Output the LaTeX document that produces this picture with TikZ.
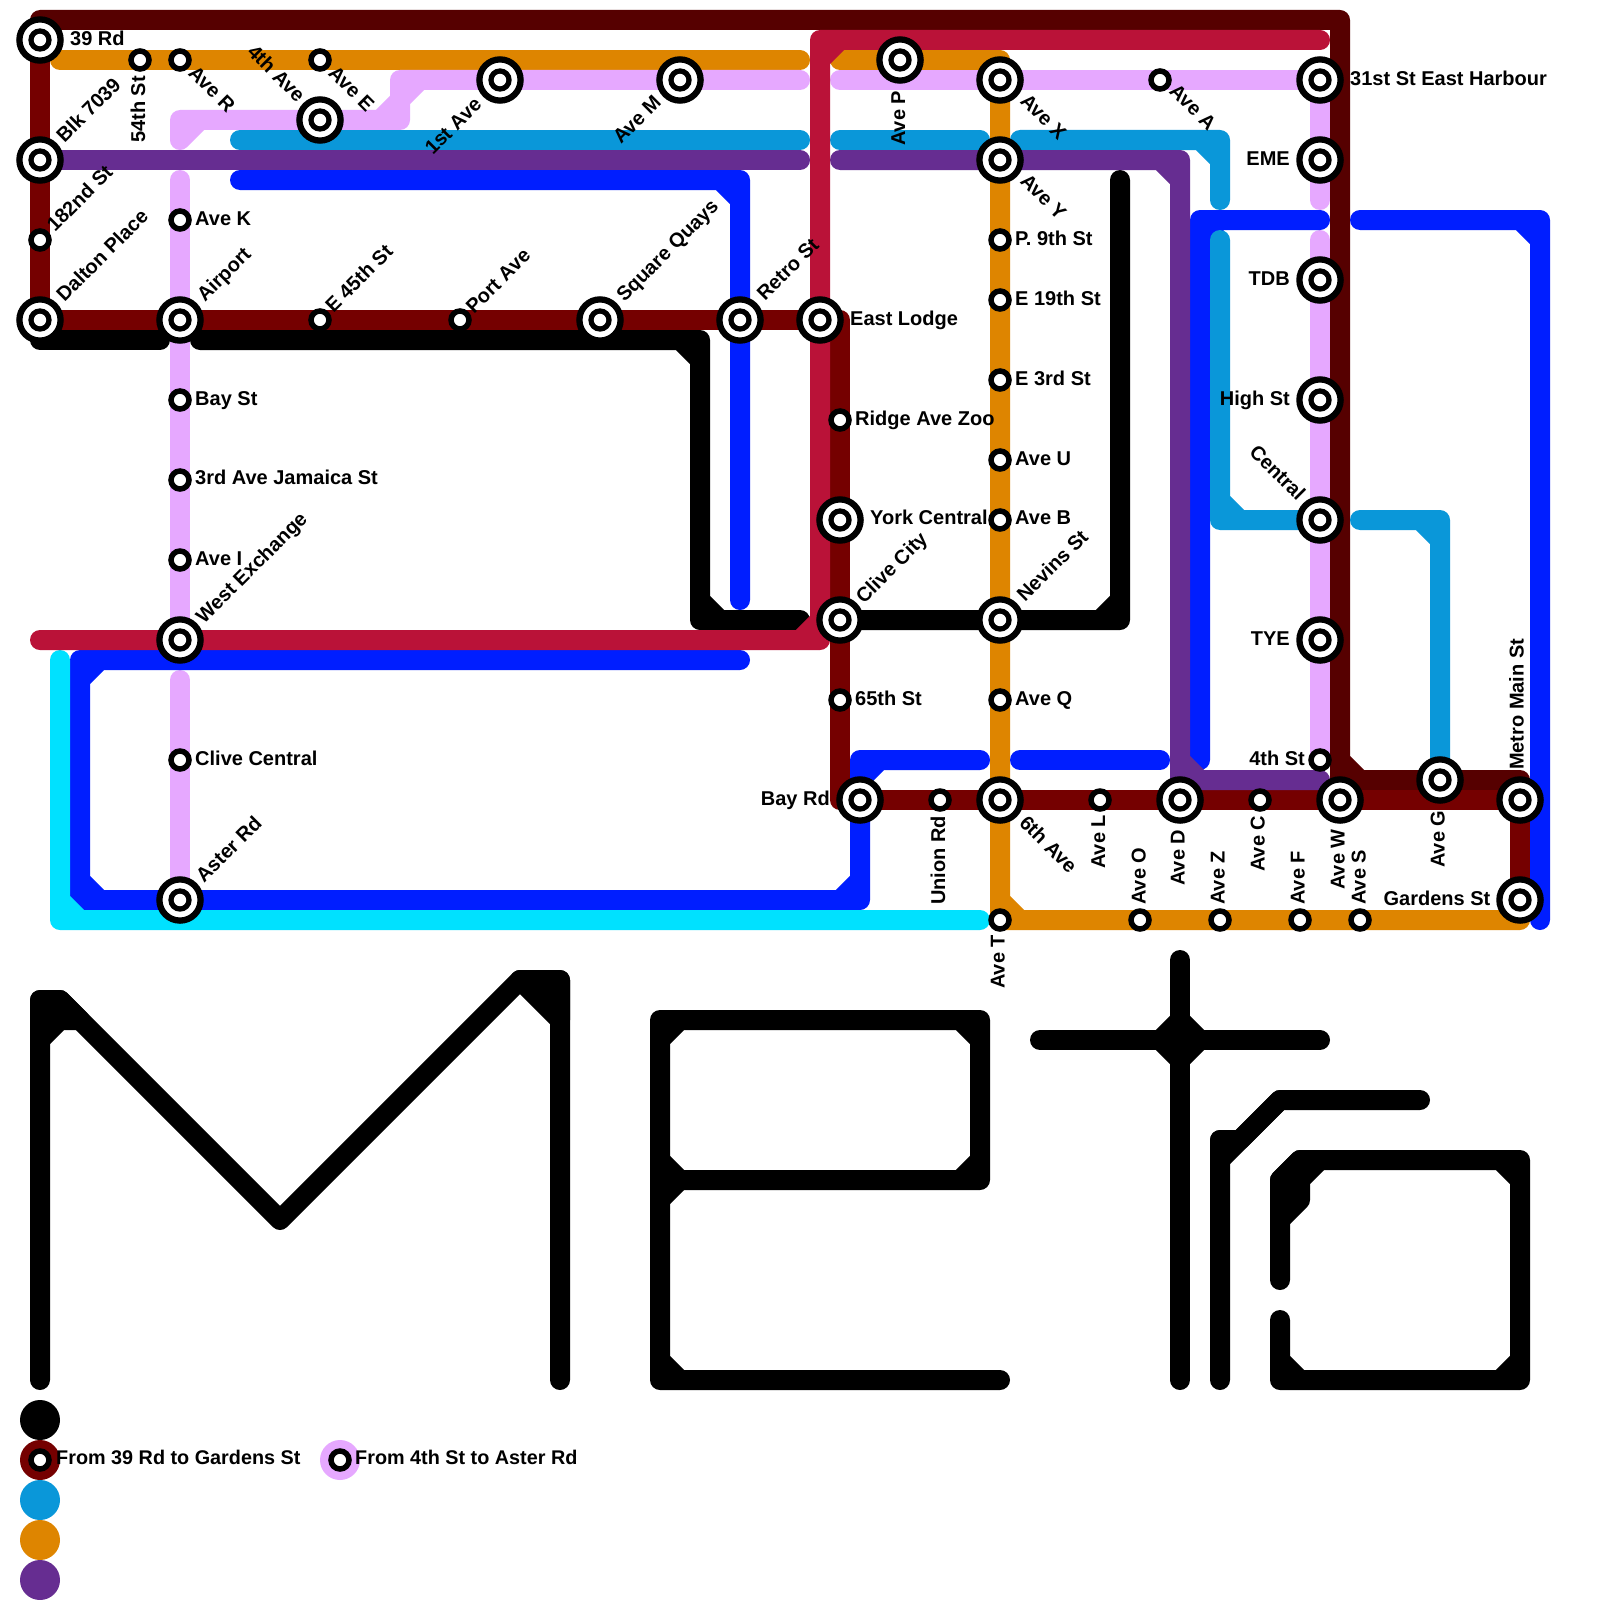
\documentclass[tikz,border=0pt]{standalone}
\usepackage{fontspec}
\setmainfont{Liberation Sans}
\usetikzlibrary{backgrounds}
\definecolor{cMaroon}{HTML}{560000}
\definecolor{cRed}{HTML}{750000}
\definecolor{cCrimson}{HTML}{BA1238}
\definecolor{cOrange}{HTML}{DE8500}
\definecolor{cPink}{HTML}{E6A8FF}
\definecolor{cSky}{HTML}{0A97D9}
\definecolor{cPurple}{HTML}{662D91}
\definecolor{cBlue}{HTML}{001EFF}
\definecolor{cCyan}{HTML}{00E1FF}
\pgfdeclarelayer{lines}
\pgfsetlayers{lines,main}
\newcommand\cnr[3]{-- #1 -- #2 -- #3 -- #1 -- #3}
\tikzset{
  trk/.style={line width=20pt,line cap=round,line join=round},
  big/.style={circle,draw=black,fill=white,line width=6.3pt,minimum size=41.2pt,inner sep=0pt,outer sep=0pt,
    path picture={\fill[black] (path picture bounding box.center) circle (11.7pt);
                  \fill[white] (path picture bounding box.center) circle (6.2pt);}},
  sml/.style={circle,draw=black,fill=white,line width=5.5pt,minimum size=18pt,inner sep=0pt,outer sep=0pt},
  lab/.style={font=\fontsize{20}{24}\selectfont\bfseries,inner sep=0pt,anchor=mid west},
  labr/.style={font=\fontsize{20}{24}\selectfont\bfseries,inner sep=0pt,anchor=mid east},
  up/.style={lab,rotate=90},
  ne/.style={lab,rotate=45},
  se/.style={lab,rotate=-45},
  key/.style={circle,minimum size=40pt,inner sep=0pt,outer sep=0pt}
}
\begin{document}
\begin{tikzpicture}[x=1pt,y=-1pt]
\useasboundingbox (0,0) rectangle (1600,1600);
% stations
\foreach \n/\x/\y in {rd39/40/40,blk/40/160,dalton/40/320,airport/180/320,west/180/640,aster/180/900,
  fourthave/320/120,firstave/500/80,avem/680/80,square/600/320,retro/740/320,east/820/320,york/840/520,
  clive/840/620,bay/860/800,avep/900/60,avex/1000/80,avey/1000/160,nevins/1000/620,sixth/1000/800,
  harbour/1320/80,eme/1320/160,tdb/1320/280,high/1320/400,central/1320/520,tye/1320/640,
  aved/1180/800,avew/1340/800,aveg/1440/780,metro/1520/800,gardens/1520/900}
  {\node[big] (\n) at (\x,\y) {};}
\foreach \n/\x/\y in {st54/140/60,aver/180/60,avee/320/60,nd182/40/240,avek/180/220,bayst/180/400,
  jamaica/180/480,avei/180/560,clivec/180/760,e45/320/320,port/460/320,ridge/840/420,st65/840/700,
  union/940/800,p9/1000/240,e19/1000/300,e3/1000/380,aveu/1000/460,aveb/1000/520,aveq/1000/700,
  avel/1100/800,avea/1160/80,avec/1260/800,st4/1320/760,avet/1000/920,aveo/1140/920,avez/1220/920,
  avef/1300/920,aves/1360/920}
  {\node[sml] (\n) at (\x,\y) {};}
\begin{pgfonlayer}{lines}
\fill[white] (0,0) rectangle (1600,1600);
% black
\draw[trk,black] (dalton.center |- 0,340) -- (160,340);
\draw[trk,black] (200,340) \cnr{(680,340)}{(700,340)}{(700,360)} \cnr{(700,600)}{(700,620)}{(720,620)} -- (800,620);
\draw[trk,black] (clive.center) \cnr{(1100,620)}{(1120,620)}{(1120,600)} -- (1120,180);
% dark maroon
\draw[trk,cMaroon] (rd39.center) -- (40,20) -- (1340,20) \cnr{(1340,760)}{(1340,780)}{(1360,780)} -- (1520,780) -- (metro.center);
% dark red
\draw[trk,cRed] (rd39.center) -- (dalton.center) -- (840,320) -- (840,800) -- (metro.center) -- (gardens.center);
% orange
\draw[trk,cOrange] (60,60) -- (800,60);
\draw[trk,cOrange] (840,60) -- (1000,60) \cnr{(1000,900)}{(1000,920)}{(1020,920)} -- (1520,920);
% pink
\draw[trk,cPink] (180,140) \cnr{(180,140)}{(180,120)}{(200,120)} \cnr{(380,120)}{(400,120)}{(400,100)} \cnr{(400,100)}{(400,80)}{(420,80)} -- (800,80);
\draw[trk,cPink] (840,80) -- (1320,80) -- (1320,200);
\draw[trk,cPink] (1320,240) -- (st4.center);
\draw[trk,cPink] (180,180) -- (west.center);
\draw[trk,cPink] (180,680) -- (aster.center);
% blue
\draw[trk,cBlue] (240,180) \cnr{(720,180)}{(740,180)}{(740,200)} -- (740,600);
\draw[trk,cBlue] (740,660) \cnr{(100,660)}{(80,660)}{(80,680)} \cnr{(80,880)}{(80,900)}{(100,900)} \cnr{(840,900)}{(860,900)}{(860,880)} \cnr{(860,780)}{(860,760)}{(880,760)} -- (980,760);
\draw[trk,cBlue] (1020,760) -- (1160,760);
\draw[trk,cBlue] (1200,760) \cnr{(1200,240)}{(1200,220)}{(1220,220)} -- (1320,220);
\draw[trk,cBlue] (1360,220) \cnr{(1520,220)}{(1540,220)}{(1540,240)} -- (1540,920);
% sky
\draw[trk,cSky] (240,140) -- (800,140);
\draw[trk,cSky] (840,140) -- (980,140);
\draw[trk,cSky] (1020,140) \cnr{(1200,140)}{(1220,140)}{(1220,160)} -- (1220,200);
\draw[trk,cSky] (1220,240) \cnr{(1220,500)}{(1220,520)}{(1240,520)} -- (central.center);
\draw[trk,cSky] (1360,520) \cnr{(1420,520)}{(1440,520)}{(1440,540)} -- (aveg.center);
% purple
\draw[trk,cPurple] (blk.center) -- (800,160);
\draw[trk,cPurple] (840,160) \cnr{(1160,160)}{(1180,160)}{(1180,180)} \cnr{(1180,760)}{(1180,780)}{(1200,780)} -- (1320,780);
% cyan
\draw[trk,cCyan] (60,660) \cnr{(60,900)}{(60,920)}{(80,920)} -- (980,920);
% crimson
\draw[trk,cCrimson] (40,640) \cnr{(800,640)}{(820,640)}{(820,620)} \cnr{(820,60)}{(820,40)}{(840,40)} -- (1320,40);
% big letters M
\draw[trk,black,fill=black] (40,1040) -- (60,1020) -- (80,1020) -- (60,1000) -- (40,1000) -- cycle;
\draw[trk,black] (40,1380) -- (40,1000) -- (60,1000) -- (280,1220) -- (520,980) -- (560,980) -- (560,1380);
\draw[trk,black,fill=black] (520,980) -- (560,980) -- (560,1020) -- cycle;
% E
\draw[trk,black] (1000,1380) \cnr{(680,1380)}{(660,1380)}{(660,1360)} \cnr{(660,1040)}{(660,1020)}{(680,1020)} \cnr{(960,1020)}{(980,1020)}{(980,1040)} \cnr{(980,1160)}{(980,1180)}{(960,1180)} -- (660,1180);
\draw[trk,black,fill=black] (660,1160) -- (680,1180) -- (660,1200) -- cycle;
% t
\draw[trk,black] (1180,960) -- (1180,1380);
\draw[trk,black] (1040,1040) -- (1320,1040);
\draw[trk,black,fill=black] (1180,1020) -- (1200,1040) -- (1180,1060) -- (1160,1040) -- cycle;
% r
\draw[trk,black] (1220,1380) -- (1220,1140) -- (1240,1140) -- (1280,1100) -- (1420,1100);
\draw[trk,black,fill=black] (1220,1160) -- (1220,1140) -- (1240,1140) -- (1280,1100) -- cycle;
% o
\draw[trk,black] (1280,1280) -- (1280,1180) -- (1300,1160) \cnr{(1500,1160)}{(1520,1160)}{(1520,1180)} \cnr{(1520,1360)}{(1520,1380)}{(1500,1380)} \cnr{(1300,1380)}{(1280,1380)}{(1280,1360)} -- (1280,1320);
\draw[trk,black,fill=black] (1280,1180) -- (1300,1160) -- (1320,1160) -- (1300,1180) -- (1300,1200) -- (1280,1220) -- cycle;
\end{pgfonlayer}
% legend
\node[key,fill=black] (k1) at (40,1420) {};
\node[key,fill=cRed] (k2) at (40,1460) {};
\node[key,fill=cSky] (k3) at (40,1500) {};
\node[key,fill=cOrange] (k4) at (40,1540) {};
\node[key,fill=cPurple] (k5) at (40,1580) {};
\node[key,fill=cPink] (k6) at (340,1460) {};
\node[sml] (k7) at (40,1460) {};
\node[sml] (k8) at (340,1460) {};
\node[lab,font=\fontsize{19.8}{24}\selectfont\bfseries] (t1) at (56,1462) {From 39 Rd to Gardens St};
\node[lab,font=\fontsize{19.8}{24}\selectfont\bfseries] (t2) at (355,1462) {From 4th St to Aster Rd};
% horizontal labels
\node[lab] (l1) at (70,43) {39 Rd};
\node[lab] (l2) at (195,223) {Ave K};
\node[lab] (l3) at (195,403) {Bay St};
\node[lab] (l4) at (195,482) {3rd Ave Jamaica St};
\node[lab] (l5) at (195,563) {Ave I};
\node[lab] (l6) at (195,763) {Clive Central};
\node[lab] (l7) at (850,323) {East Lodge};
\node[lab] (l8) at (855,423) {Ridge Ave Zoo};
\node[lab] (l9) at (870,522) {York Central};
\node[lab] (l10) at (855,703) {65th St};
\node[labr] (l11) at (830,803) {Bay Rd};
\node[lab] (l12) at (1350,83) {31st St East Harbour};
\node[labr] (l13) at (1290,163) {EME};
\node[labr] (l14) at (1290,283) {TDB};
\node[labr] (l15) at (1290,403) {High St};
\node[labr] (l16) at (1290,643) {TYE};
\node[labr] (l17) at (1305,763) {4th St};
\node[lab] (l18) at (1015,243) {P. 9th St};
\node[lab] (l19) at (1015,303) {E 19th St};
\node[lab] (l20) at (1015,383) {E 3rd St};
\node[lab] (l21) at (1015,463) {Ave U};
\node[lab] (l22) at (1015,522) {Ave B};
\node[lab] (l23) at (1015,703) {Ave Q};
\node[labr] (l24) at (1490.5,903) {Gardens St};
% upright labels
\node[up] (u1) at (142.5,143) {54th St};
\node[up] (u2) at (902.5,146) {Ave P};
\node[up] (u3) at (942.5,905) {Union Rd};
\node[up] (u4) at (1102.5,869) {Ave L};
\node[up] (u5) at (1143,905) {Ave O};
\node[up] (u6) at (1182,886) {Ave D};
\node[up] (u7) at (1222,905) {Ave Z};
\node[up] (u8) at (1262,872) {Ave C};
\node[up] (u9) at (1302,905) {Ave F};
\node[up] (u10) at (1342,890) {Ave W};
\node[up] (u11) at (1363,905) {Ave S};
\node[up] (u12) at (1442,868) {Ave G};
\node[up] (u13) at (1002,989) {Ave T};
\node[up] (u14) at (1521,770) {Metro Main St};
% rising labels
\node[ne] (n1) at (62.5,142) {Blk 7039};
\node[ne] (n2) at (53,231) {182nd St};
\node[ne] (n3) at (62.5,301) {Dalton Place};
\node[ne] (n4) at (203,301) {Airport};
\node[ne] (n5) at (331.5,312) {E 45th St};
\node[ne] (n6) at (472,313) {Port Ave};
\node[ne] (n7) at (622.5,301) {Square Quays};
\node[ne] (n8) at (763,300) {Retro St};
\node[ne] (n9) at (202,623) {West Exchange};
\node[ne] (n10) at (202,882) {Aster Rd};
\node[ne] (n11) at (862,603) {Clive City};
\node[ne] (n12) at (1023,601) {Nevins St};
\node[ne] (n13) at (431,154) {1st Ave};
\node[ne] (n14) at (619,143) {Ave M};
% falling labels
\node[se] (s1) at (189,72) {Ave R};
\node[se] (s2) at (329,72) {Ave E};
\node[se] (s3) at (248,51) {4th Ave};
\node[se] (s4) at (1021,100) {Ave X};
\node[se] (s5) at (1021,180) {Ave Y};
\node[se] (s6) at (1170,90) {Ave A};
\node[se] (s7) at (1020,822) {6th Ave};
\node[se] (s8) at (1250,451) {Central};
\end{tikzpicture}
\end{document}
